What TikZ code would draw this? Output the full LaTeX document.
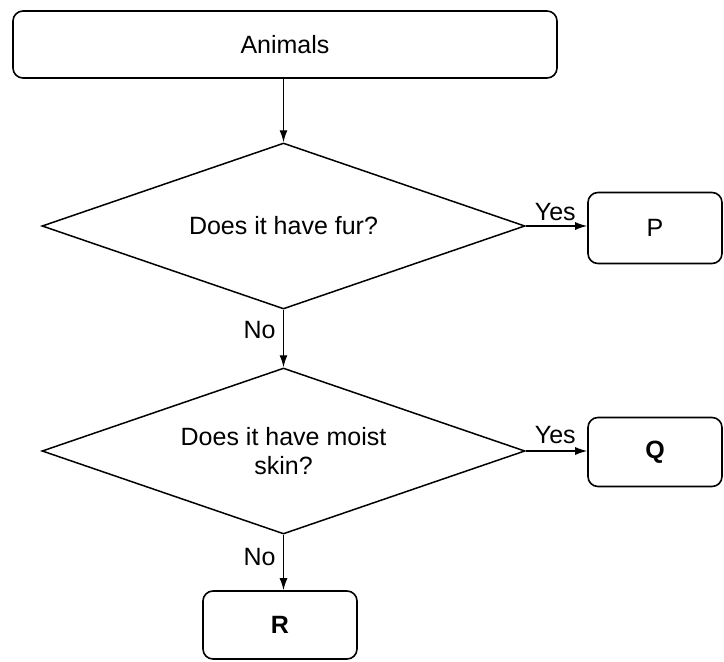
\documentclass[tikz,border=0pt]{standalone}
\usepackage{fontspec}
\setmainfont{Liberation Sans}
\usetikzlibrary{arrows.meta,
                shapes.geometric}

\begin{document}
\begin{tikzpicture}%
    [x = 1pt, y = -1pt,
     font = \fontsize{25}{29}\selectfont,
     box/.style = {draw, line width = 1.6pt, rounded corners = 10pt, inner sep = 0pt},
     query/.style = {draw, diamond, line width = 1.5pt, inner sep = 0pt, aspect = 2.9,
                     minimum width = 483pt, minimum height = 166pt, align = center},
     flow/.style = {-{Latex[length = 12pt, width = 8pt]}, line width = 1.3pt}]
    \useasboundingbox (0,0) rectangle (724,662);

    \node [box, minimum width = 544pt, minimum height = 67pt] (animals) at (285, 44.5) {Animals};
    \node [query] (fur) at (283.5, 226) {Does it have fur?};
    \node [query] (skin) at (283.5, 451) {Does it have moist\\skin?};

    \node [box, minimum width = 134pt, minimum height = 71pt] (p) at (655, 228) {P};
    \node [box, minimum width = 134pt, minimum height = 69pt] (q) at (655, 452) {\textbf{Q}};
    \node [box, minimum width = 154pt, minimum height = 68pt] (r) at (280, 625) {\textbf{R}};

    \draw [flow] (fur.north |- animals.south) -- (fur.north);
    \draw [flow] (fur.east) -- (fur.east -| p.west) node [pos = 0.48, above = 1pt] {Yes};
    \draw [flow] (fur.south) -- (skin.north) node [pos = 0.35, left = 4pt] {No};
    \draw [flow] (skin.east) -- (skin.east -| q.west) node [pos = 0.48, above = 3pt] {Yes};
    \draw [flow] (skin.south) -- (skin.south |- r.north) node [pos = 0.4, left = 4pt] {No};
\end{tikzpicture}
\end{document}
